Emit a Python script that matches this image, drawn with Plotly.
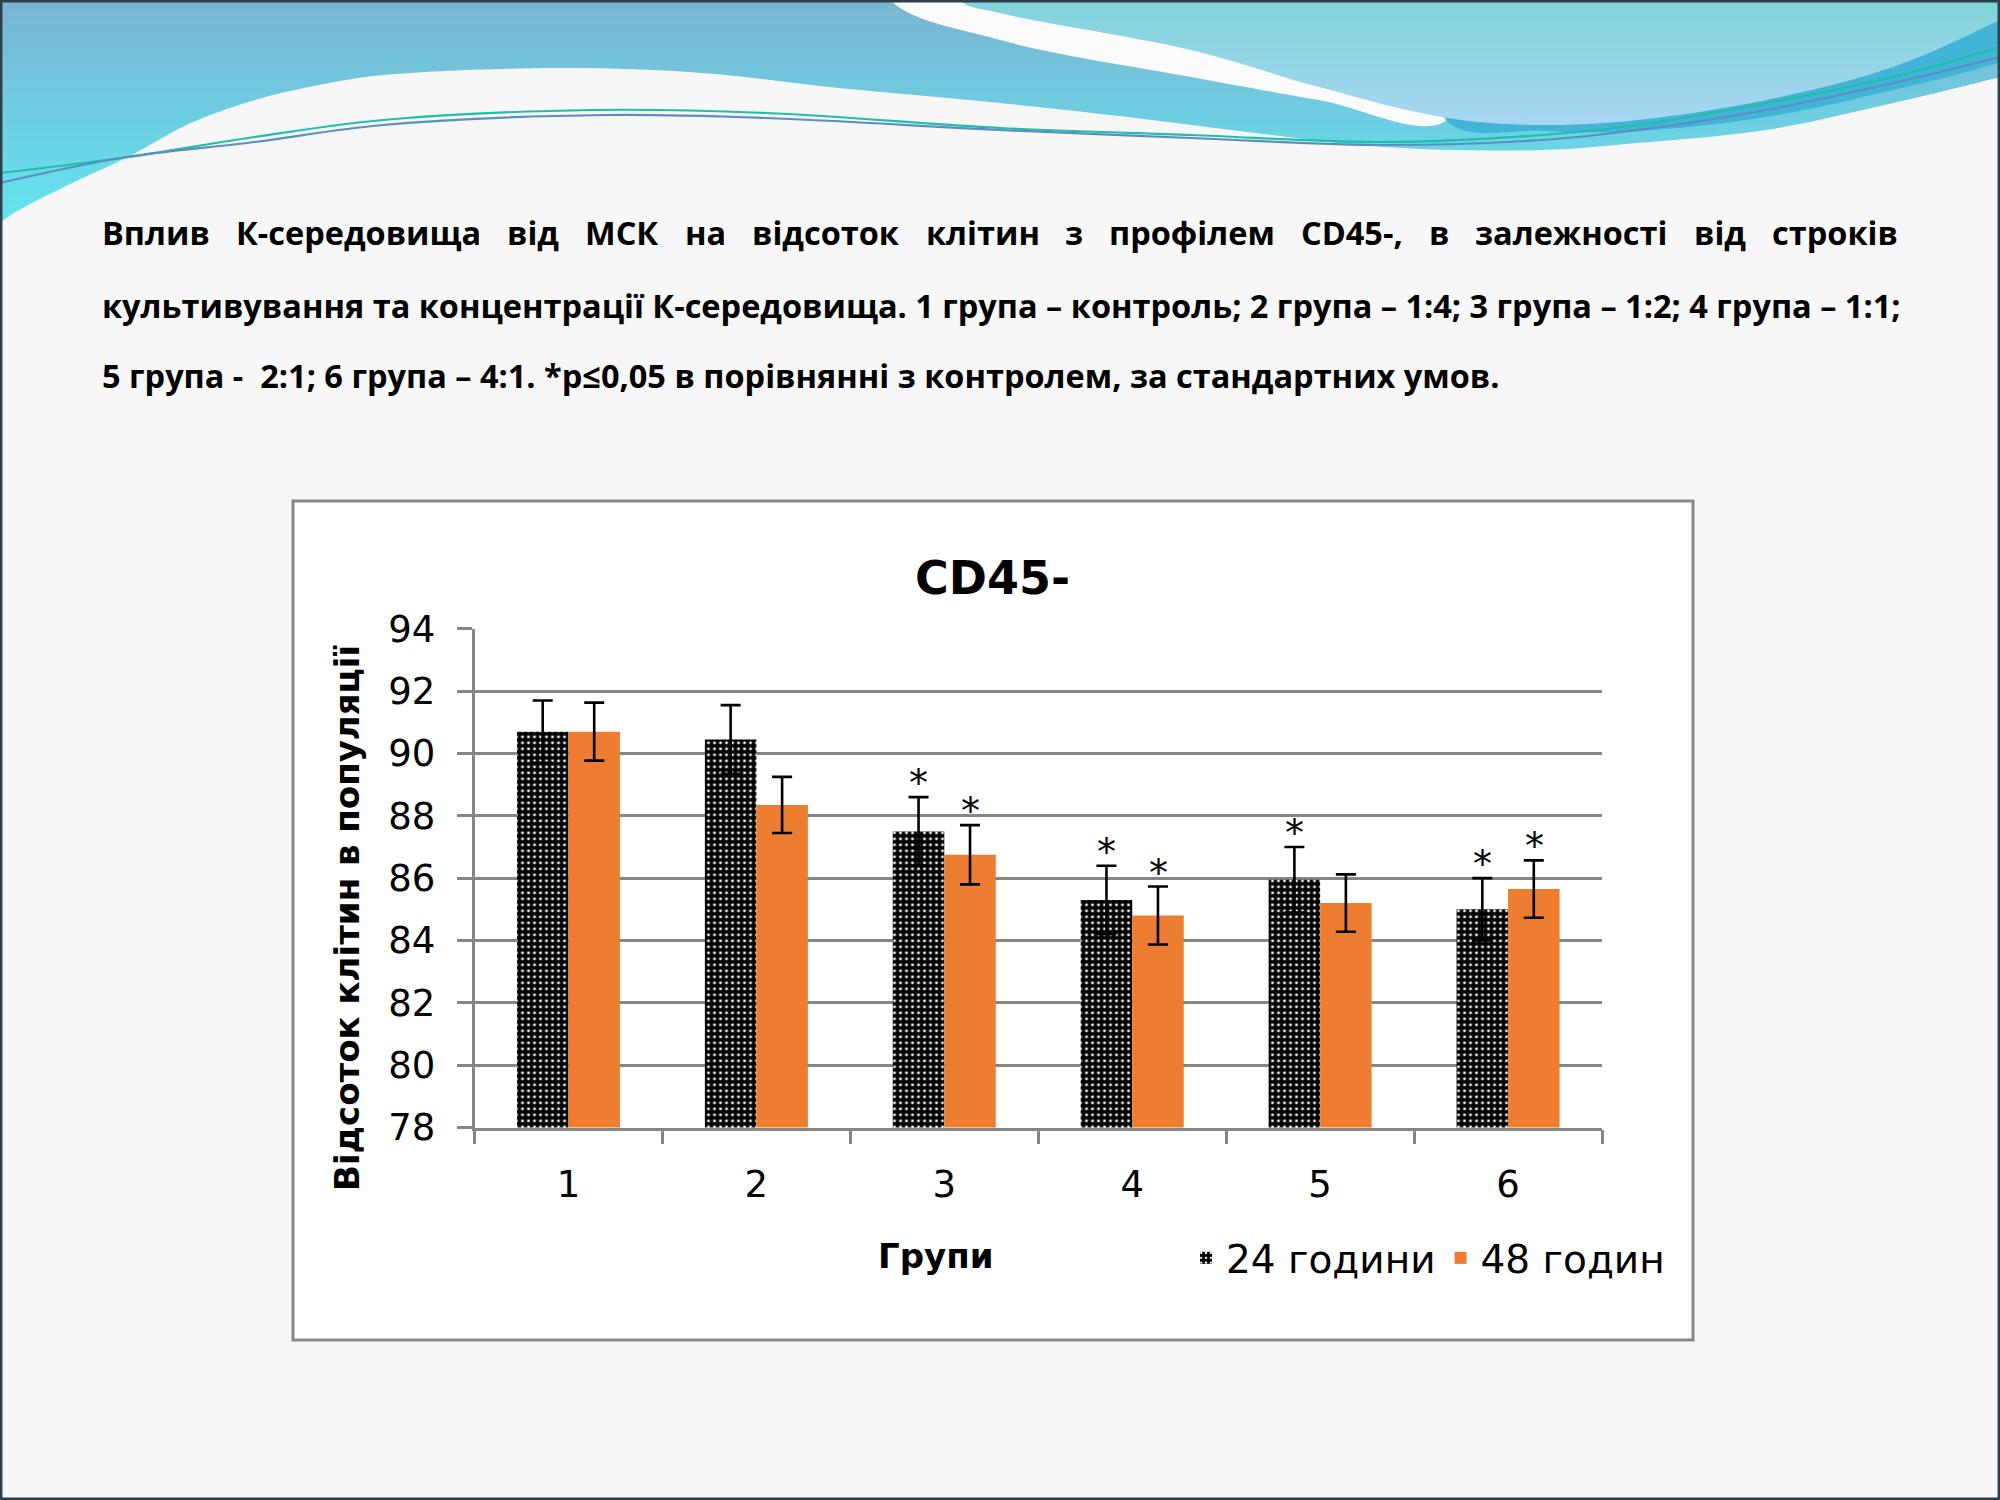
import plotly.graph_objects as go

# %%
# Дані з діаграми (CD45-, відсоток клітин у популяції)
groups = ["1", "2", "3", "4", "5", "6"]
series_names = ["24 години", "48 годин"]
pct_24h = [90.7, 90.45, 87.5, 85.3, 85.95, 85.0]
err_24h = [1.0, 1.1, 1.1, 1.1, 1.05, 1.0]
pct_48h = [90.7, 88.35, 86.75, 84.8, 85.2, 85.65]
err_48h = [0.93, 0.9, 0.95, 0.93, 0.92, 0.92]
sig_24h = [False, False, True, True, True, True]
sig_48h = [False, False, True, True, False, True]

chart_title = "CD45-"
y_title = "Відсоток клітин в популяції"
x_title = "Групи"

# Підпис слайду (перший рядок вирівняно по ширині - слова окремо)
caption_words_1 = ["Вплив", "К-середовища", "від", "МСК", "на", "відсоток", "клітин",
                   "з", "профілем", "CD45-,", "в", "залежності", "від", "строків"]
caption_line_2 = ("культивування та концентрації К-середовища. 1 група – контроль; "
                  "2 група – 1:4; 3 група – 1:2; 4 група – 1:1;")
caption_line_3 = ("5 група -  2:1; 6 група – 4:1. *p≤0,05 в порівнянні з контролем, "
                  "за стандартних умов.")

# %%
# Розміри та допоміжні функції
W, H = 2000, 1500
ORANGE = "#ED7D31"
GRID = "#868686"
CHART_FONT = "DejaVu Sans, Verdana, sans-serif"
CAPTION_FONT = "Open Sans, Noto Sans, sans-serif"
CAP_LEFT, CAP_RIGHT = 100, 1896


def px(x):
    return x / W


def py(y):
    return 1 - y / H


def deco(xs, ys, **kw):
    # декоративні хвилі шапки слайду, у піксельних координатах
    return go.Scatter(x=xs, y=ys, xaxis="x2", yaxis="y2", mode="lines",
                      line_shape="spline", hoverinfo="skip", showlegend=False, **kw)


fig = go.Figure()

# %%
# Шапка слайду (хвилі)
fig.add_trace(deco(
    [-30, 2060, 2060, 2000, 1893, 1766, 1638, 1542, 1383, 1255, 1128, 1000, 829, 702,
     561, 383, 319, 255, 191, 128, 64, 0, -30],
    [-60, -60, 60, 77, 103, 130, 143, 150, 147, 133, 117, 103, 87, 73,
     68, 75, 85, 100, 123, 157, 187, 223, 260],
    fill="toself", line=dict(width=0, color="#6fcfe2"),
    fillgradient=dict(type="vertical", start=0, stop=225,
                      colorscale=[[0, "#7bb4d2"], [1, "#62e6f0"]]),
))
fig.add_trace(deco(
    [870, 890, 1000, 1191, 1319, 1447, 1470],
    [-60, 0, 40, 77, 100, 120, -60],
    fill="toself", line=dict(width=0, color="#fbfbfb"), fillcolor="#fbfbfb",
))
fig.add_trace(deco(
    [1440, 1447, 1542, 1638, 1766, 1893, 2000, 2060, 2060],
    [-60, 121, 131, 131, 117, 90, 62, 35, -60],
    fill="toself", line=dict(width=0, color="#42b4d8"), fillcolor="#42b4d8",
))
fig.add_trace(deco(
    [940, 960, 1000, 1191, 1319, 1447, 1542, 1638, 1766, 1893, 2000, 2060, 2060],
    [-60, 0, 13, 50, 87, 118, 125, 120, 100, 67, 20, -10, -60],
    fill="toself", line=dict(width=0, color="#92d6e6"),
    fillgradient=dict(type="vertical", start=0, stop=125,
                      colorscale=[[0, "#80d4da"], [1, "#a9d6f3"]]),
))
fig.add_trace(deco(
    [0, 121, 255, 383, 593, 766, 1000, 1191, 1383, 1542, 1638, 1766, 1893, 2000],
    [173, 158, 137, 120, 110, 113, 128, 135, 142, 135, 125, 103, 77, 47],
    line=dict(width=2.2, color="#1fbfa8"),
))
fig.add_trace(deco(
    [0, 121, 255, 383, 606, 766, 1000, 1191, 1383, 1542, 1638, 1766, 1893, 2000],
    [183, 158, 142, 125, 115, 118, 130, 138, 145, 140, 130, 110, 83, 57],
    line=dict(width=2.2, color="#5b8fc2"),
))

# %%
# Стовпчики з похибками
fig.add_trace(go.Bar(
    name=series_names[0], x=groups, y=pct_24h,
    marker=dict(color="white", line=dict(width=0),
                pattern=dict(shape="+", fgcolor="black", bgcolor="white",
                             size=6, solidity=0.82, fillmode="replace")),
    error_y=dict(type="data", array=err_24h, color="black", thickness=2.6, width=10),
))
fig.add_trace(go.Bar(
    name=series_names[1], x=groups, y=pct_48h,
    marker=dict(color=ORANGE, line=dict(width=0)),
    error_y=dict(type="data", array=err_48h, color="black", thickness=2.6, width=10),
))

# Зірочки значущості (*p≤0,05); x - індекс категорії
for shift, vals, errs, sig in [(-26, pct_24h, err_24h, sig_24h),
                               (26, pct_48h, err_48h, sig_48h)]:
    for i, (v, e, s) in enumerate(zip(vals, errs, sig)):
        if s:
            fig.add_annotation(x=i, y=v + e, xref="x", yref="y", text="*",
                               showarrow=False, xshift=shift, yshift=14,
                               xanchor="center", yanchor="middle",
                               font=dict(family=CHART_FONT, size=38, color="black"))

# %%
# Рамки: слайд і область діаграми
fig.add_shape(type="rect", xref="paper", yref="paper", layer="below",
              x0=px(293), x1=px(1693), y0=py(1340), y1=py(501),
              fillcolor="white", line=dict(color="#878787", width=3))
fig.add_shape(type="rect", xref="paper", yref="paper", layer="above",
              x0=0.0006, x1=0.9994, y0=0.0008, y1=0.9992,
              fillcolor="rgba(0,0,0,0)", line=dict(color="#2f3f4a", width=2.5))

# %%
# Тексти
cap_font = dict(family=CAPTION_FONT, size=32.5, color="black")
# початкові позиції слів першого рядка; у браузері їх вирівнюємо по ширині (див. нижче)
caption_x_1 = [100, 337, 500, 617, 716, 821, 972, 1069, 1186, 1352, 1445, 1574, 1718, 1896]
for k, (word, x) in enumerate(zip(caption_words_1, caption_x_1)):
    anchor = "left" if k == 0 else ("right" if k == len(caption_words_1) - 1 else "center")
    fig.add_annotation(x=px(x), y=py(233), xref="paper", yref="paper", text=f"<b>{word}</b>",
                       name="cap1", showarrow=False, xanchor=anchor, yanchor="middle",
                       font=cap_font)
fig.add_annotation(x=px(CAP_LEFT), y=py(305), xref="paper", yref="paper",
                   text=f"<b>{caption_line_2}</b>", showarrow=False,
                   xanchor="left", yanchor="middle", font=cap_font)
fig.add_annotation(x=px(CAP_LEFT), y=py(375), xref="paper", yref="paper",
                   text=f"<b>{caption_line_3}</b>", showarrow=False,
                   xanchor="left", yanchor="middle", font=cap_font)

fig.add_annotation(x=px(992), y=py(578), xref="paper", yref="paper",
                   text=f"<b>{chart_title}</b>", showarrow=False,
                   xanchor="center", yanchor="middle",
                   font=dict(family=CHART_FONT, size=46, color="black"))
fig.add_annotation(x=px(347), y=py(918), xref="paper", yref="paper",
                   text=f"<b>{y_title}</b>", textangle=-90, showarrow=False,
                   xanchor="center", yanchor="middle",
                   font=dict(family=CHART_FONT, size=34, color="black"))
fig.add_annotation(x=px(935), y=py(1256), xref="paper", yref="paper",
                   text=f"<b>{x_title}</b>", showarrow=False,
                   xanchor="center", yanchor="middle",
                   font=dict(family=CHART_FONT, size=34, color="black"))

# %%
# Макет
fig.update_layout(
    width=W, height=H,
    margin=dict(l=0, r=0, t=0, b=0, autoexpand=False),
    paper_bgcolor="#f7f7f7",
    plot_bgcolor="rgba(0,0,0,0)",
    barmode="group", bargap=0.452, bargroupgap=0,
    hovermode=False,
    xaxis=dict(
        domain=[px(474.5), px(1602)], type="category", range=[-0.5, 5.5],
        showline=True, linecolor=GRID, linewidth=2.5,
        ticks="outside", tickson="boundaries", ticklen=14,
        tickcolor=GRID, tickwidth=2.5, ticklabelstandoff=22,
        showgrid=False, zeroline=False,
        tickfont=dict(family=CHART_FONT, size=37, color="black"),
    ),
    yaxis=dict(
        domain=[py(1127.5), py(628.8)], range=[78, 94], dtick=2,
        showline=True, linecolor=GRID, linewidth=2.5,
        ticks="outside", ticklen=15, tickcolor=GRID, tickwidth=2.5,
        ticklabelstandoff=14,
        showgrid=True, gridcolor=GRID, gridwidth=2.5, zeroline=False,
        tickfont=dict(family=CHART_FONT, size=37, color="black"),
    ),
    xaxis2=dict(domain=[0, 1], range=[0, W], visible=False, anchor="y2"),
    yaxis2=dict(domain=[0, 1], range=[H, 0], visible=False, anchor="x2"),
    legend=dict(
        orientation="h", x=px(1186), y=py(1258), xanchor="left", yanchor="middle",
        bgcolor="rgba(0,0,0,0)", font=dict(family=CHART_FONT, size=39, color="black"),
        traceorder="normal",
    ),
)

# %%
# Вирівнювання першого рядка підпису по ширині (рівні проміжки між словами)
justify_js = """
document.body.style.margin = '0';
document.body.style.overflow = 'hidden';
var gd = document.getElementById('{plot_id}');
var anns = gd.layout.annotations, idx = [], widths = [];
anns.forEach(function (a, i) { if (a.name === 'cap1') idx.push(i); });
idx.forEach(function (i) {
  var el = gd.querySelector('.annotation[data-index="' + i + '"] .annotation-text');
  widths.push(el ? el.getBBox().width : 0);
});
var total = widths.reduce(function (s, w) { return s + w; }, 0);
if (idx.length > 1 && total > 0) {
  var left = LEFT, right = RIGHT;
  var gap = (right - left - total) / (idx.length - 1), x = left, upd = {};
  idx.forEach(function (i, k) {
    upd['annotations[' + i + '].x'] = x / WIDTH;
    upd['annotations[' + i + '].xanchor'] = 'left';
    x += widths[k] + gap;
  });
  Plotly.relayout(gd, upd);
}
""".replace("LEFT", str(CAP_LEFT)).replace("RIGHT", str(CAP_RIGHT)).replace("WIDTH", str(W))

fig.write_html(
    "out.html",
    config={"displayModeBar": False},
    post_script=justify_js,
)
